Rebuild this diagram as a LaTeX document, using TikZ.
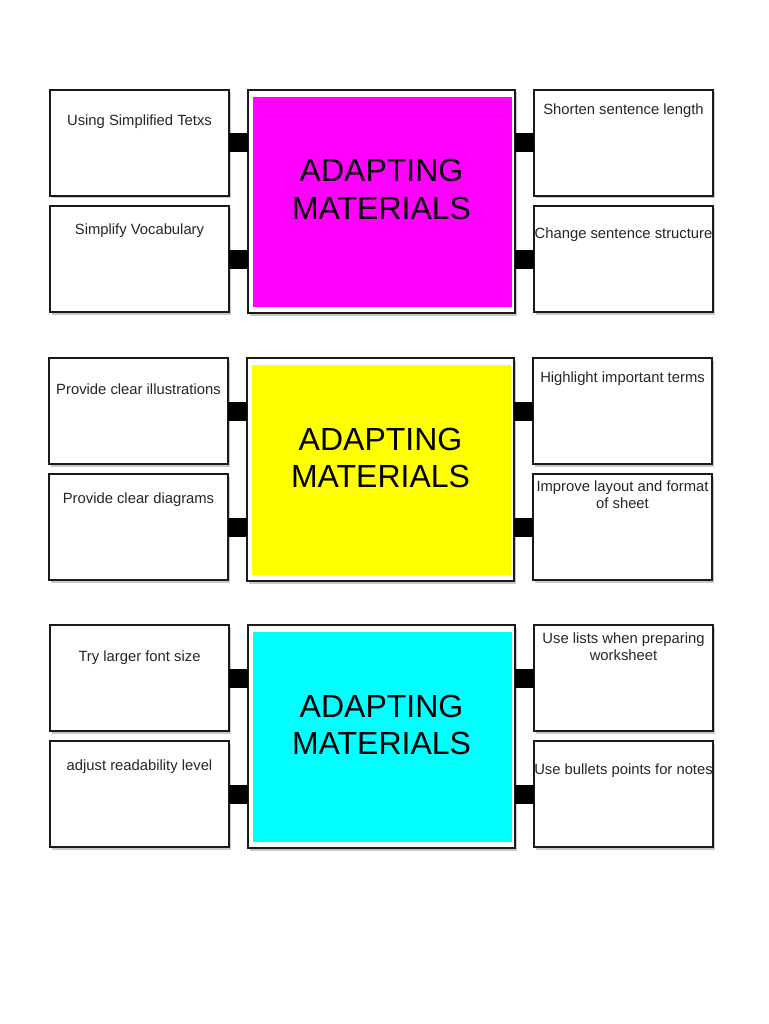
\documentclass[tikz,border=0pt]{standalone}
\usepackage{fontspec}
\setmainfont{Liberation Sans}
\usetikzlibrary{shadows}
\definecolor{edge}{HTML}{1A1A1A}
\definecolor{txt}{HTML}{262626}
\definecolor{cmag}{HTML}{FF00FF}
\definecolor{cyel}{HTML}{FFFF00}
\definecolor{ccya}{HTML}{00FFFF}
% #4 = distance from box top to baseline of the LAST text line
\newcommand\sbx[5]{%
  \node[sbox] (#1) at (#2,#3) {};
  \node[stext, yshift=-#4pt] (#1t) at (#1.north) {#5};}
\newcommand\cbx[4]{%
  \node[cbox] (#1) at (#2,#3) {};
  \node[cfill, fill=#4, xshift=5pt, yshift=-7pt] (#1f) at (#1.north west) {};
  \node[ctext, yshift=-129pt] (#1t) at (#1.north) {ADAPTING\\MATERIALS};}
\begin{document}
\begin{tikzpicture}[x=1pt,y=-1pt,
  sbox/.style={draw=edge, line width=1.8pt, fill=white, outer sep=0pt, inner sep=0pt,
    minimum width=179pt, minimum height=106pt, anchor=north west,
    drop shadow={shadow xshift=2pt, shadow yshift=-2.5pt, opacity=0.3, fill=black!70}},
  cbox/.style={draw=edge, line width=1.8pt, fill=white, outer sep=0pt, inner sep=0pt,
    minimum width=267pt, minimum height=223pt, anchor=north west,
    drop shadow={shadow xshift=2pt, shadow yshift=-2.5pt, opacity=0.3, fill=black!70}},
  cfill/.style={draw=none, outer sep=0pt, inner sep=0pt, anchor=north west,
    minimum width=259pt, minimum height=210pt},
  stext/.style={anchor=base, inner sep=0pt, align=center, text=txt,
    font=\fontsize{14.8}{16.8}\selectfont},
  ctext/.style={anchor=base, inner sep=0pt, align=center, text=black,
    font=\fontsize{32}{37}\selectfont},
  conn/.style={line width=19pt, line cap=butt, draw=black}]
\useasboundingbox (0,0) rectangle (768,1024);
\fill[white] (0,0) rectangle (768,1024);

% Row 1
\sbx{La}{50}{90}{36}{Using Simplified Tetxs}
\sbx{Lb}{50}{206}{29}{Simplify Vocabulary}
\sbx{Ra}{534}{90}{25}{Shorten sentence length}
\sbx{Rb}{534}{206}{33}{Change sentence structure}
\cbx{Ca}{248}{90}{cmag}
\draw[conn] (La.east) -- (La.east -| Ca.west);
\draw[conn] (Lb.east) -- (Lb.east -| Ca.west);
\draw[conn] (Ra.west) -- (Ra.west -| Ca.east);
\draw[conn] (Rb.west) -- (Rb.west -| Ca.east);

% Row 2
\sbx{Lc}{49}{358}{36}{Provide clear illustrations}
\sbx{Ld}{49}{474}{29}{Provide clear diagrams}
\sbx{Rc}{533}{358}{24}{Highlight important terms}
\sbx{Rd}{533}{474}{34}{Improve layout and format\\of sheet}
\cbx{Cb}{247}{358}{cyel}
\draw[conn] (Lc.east) -- (Lc.east -| Cb.west);
\draw[conn] (Ld.east) -- (Ld.east -| Cb.west);
\draw[conn] (Rc.west) -- (Rc.west -| Cb.east);
\draw[conn] (Rd.west) -- (Rd.west -| Cb.east);

% Row 3
\sbx{Le}{50}{625}{36}{Try larger font size}
\sbx{Lf}{50}{741}{29}{adjust readability level}
\sbx{Re}{534}{625}{35}{Use lists when preparing\\worksheet}
\sbx{Rf}{534}{741}{33}{Use bullets points for notes}
\cbx{Cc}{248}{625}{ccya}
\draw[conn] (Le.east) -- (Le.east -| Cc.west);
\draw[conn] (Lf.east) -- (Lf.east -| Cc.west);
\draw[conn] (Re.west) -- (Re.west -| Cc.east);
\draw[conn] (Rf.west) -- (Rf.west -| Cc.east);
\end{tikzpicture}
\end{document}
